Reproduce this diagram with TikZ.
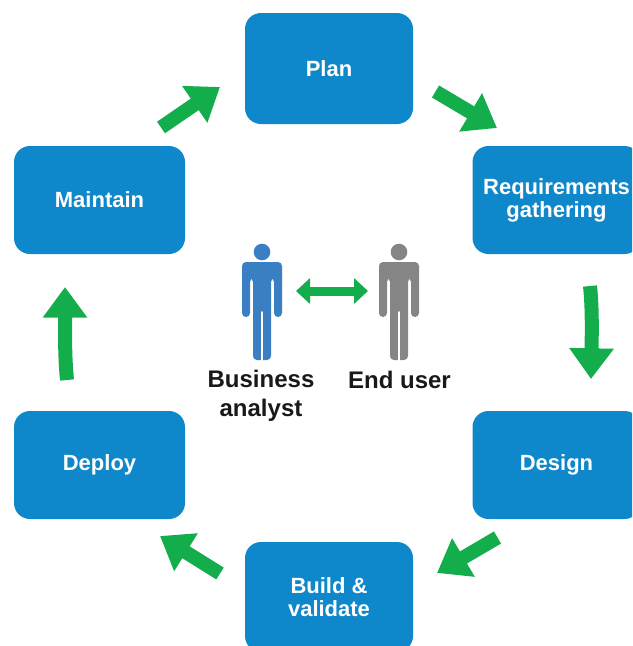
\documentclass[tikz,border=0pt]{standalone}
\usepackage{fontspec}
\setmainfont{Liberation Sans}
\usetikzlibrary{arrows.meta,positioning}
\definecolor{boxblue}{HTML}{0F87CB}
\definecolor{flowgreen}{HTML}{13AE4B}
\definecolor{personblue}{HTML}{3A7FC4}
\definecolor{persongray}{HTML}{858585}
\tikzset{
  stage/.style={fill=boxblue,rounded corners=12pt,inner sep=0pt,text=white,align=center,
    font=\fontsize{16.5}{17.25}\selectfont\bfseries,minimum width=126pt,minimum height=81pt},
  flow/.style={draw=flowgreen,line width=10.5pt,
    -{Triangle[length=23pt,width=32pt,fill=flowgreen]}},
  talk/.style={draw=flowgreen,line width=6.75pt,
    {Triangle[length=10.5pt,width=18.75pt,fill=flowgreen]}-{Triangle[length=10.5pt,width=18.75pt,fill=flowgreen]}},
  caption/.style={inner sep=0pt,text=black!90,align=center,
    font=\fontsize{18}{21.75}\selectfont\bfseries}
}
\newcommand{\personfig}[2]{%
  \begin{scope}[shift={(#1,0)}]
    \fill[#2] (0,252) circle (8.3);
    \fill[#2,rounded corners=3pt]
      (-20,317) -- (-20,262) -- (20,262) -- (20,317) -- (12,317) -- (12,278) -- (9,278)
      -- (9,360) -- (-9,360) -- (-9,278) -- (-12,278) -- (-12,317) -- cycle;
    \draw[white,line width=1.3pt,line cap=round] (0,312) -- (0,362);
  \end{scope}}
\begin{document}
\begin{tikzpicture}[x=0.75pt,y=-0.75pt]
  \useasboundingbox (0,0) rectangle (632,646);
  \clip (0,0) rectangle (632,646);
  \node[stage,minimum height=83.25pt] (plan) at (329,68.5) {Plan};
  \node[stage] (req) at (556.5,200) {Requirements\\gathering};
  \node[stage] (design) at (556.5,465) {Design};
  \node[stage,minimum height=82.5pt] (build) at (329,597) {Build \&\\validate};
  \node[stage,minimum width=128.25pt] (deploy) at (99.5,465) {Deploy};
  \node[stage,minimum width=128.25pt] (maintain) at (99.5,200) {Maintain};

  \coordinate (a1s) at (435.5,91.5);   \coordinate (a1e) at (497,128);
  \coordinate (a2s) at (590,286);      \coordinate (a2e) at (591,379);
  \coordinate (a3s) at (497.5,537.5);  \coordinate (a3e) at (437,573);
  \coordinate (a4s) at (220,573.5);    \coordinate (a4e) at (160,536);
  \coordinate (a5s) at (67,380);       \coordinate (a5e) at (65,287);
  \coordinate (a6s) at (161,127.5);    \coordinate (a6e) at (220,87);
  \draw[flow] (a1s) -- (a1e);
  \draw[flow] (a2s) .. controls (592,305) and (592,325) .. (a2e);
  \draw[flow] (a3s) -- (a3e);
  \draw[flow] (a4s) -- (a4e);
  \draw[flow] (a5s) .. controls (65,360) and (65,340) .. (a5e);
  \draw[flow] (a6s) -- (a6e);

  \personfig{262}{personblue}
  \personfig{399}{persongray}
  \coordinate (ba) at (296,291);
  \coordinate (eu) at (368,291);
  \draw[talk] (ba) -- (eu);
  \node[caption] (bacap) at (261,395.5) {Business\\analyst};
  \node[caption] (eucap) at (399.5,380) {End user};
\end{tikzpicture}
\end{document}
